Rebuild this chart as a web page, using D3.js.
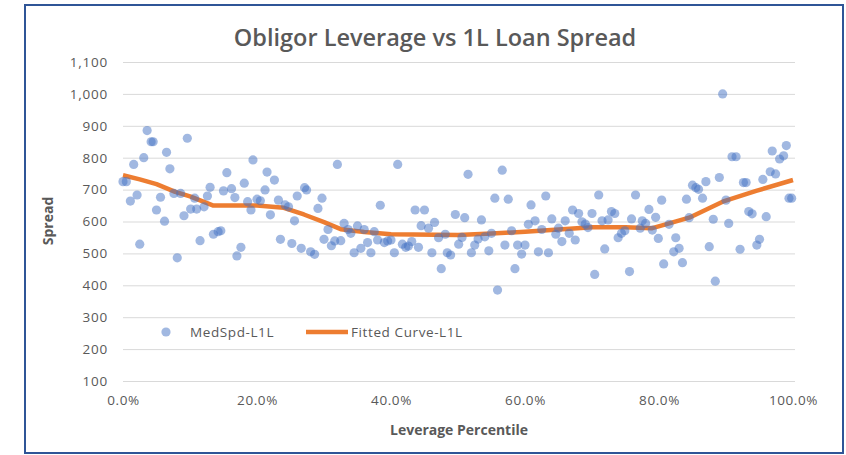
<!DOCTYPE html>
<html>
<head>
<meta charset="utf-8">
<script src="https://cdn.jsdelivr.net/npm/d3@7"></script>
<style>
  body { margin: 0; background: #fff; }
  svg text { font-family: "Open Sans", sans-serif; fill: #595959; }
</style>
</head>
<body>
<div id="chartContainer"></div>
<script>
// scatter points: leverage percentile (%) and median spread
const spreadX = [
  0.0, 0.5, 1.1, 1.6, 2.1, 2.5, 3.1, 3.6, 4.2, 4.5, 5.0, 5.6, 6.2, 6.5, 7.0, 7.6, 8.1, 8.6, 9.1, 9.6,
  10.1, 10.7, 11.0, 11.5, 12.1, 12.6, 13.0, 13.5, 14.2, 14.6, 15.0, 15.5, 16.2, 16.7, 17.0, 17.6, 18.1, 18.6, 19.1, 19.4,
  20.0, 20.5, 21.2, 21.5, 22.0, 22.6, 23.2, 23.5, 24.2, 24.7, 25.2, 25.6, 26.0, 26.6, 27.1, 27.4, 28.0, 28.6, 29.1, 29.7,
  30.0, 30.6, 31.1, 31.6, 32.0, 32.5, 33.0, 33.6, 34.0, 34.5, 35.0, 35.5, 36.0, 36.5, 37.0, 37.5, 38.0, 38.4, 39.0, 39.5,
  40.0, 40.5, 41.0, 41.7, 42.2, 42.6, 43.1, 43.6, 44.1, 44.5, 45.0, 45.6, 46.1, 46.5, 47.1, 47.5, 48.1, 48.4, 48.9, 49.6,
  50.1, 50.6, 51.0, 51.5, 52.0, 52.5, 53.0, 53.5, 54.0, 54.6, 55.0, 55.5, 55.9, 56.6, 57.0, 57.5, 58.0, 58.5, 58.9, 59.5,
  60.0, 60.5, 60.9, 61.5, 62.0, 62.5, 63.1, 63.5, 64.0, 64.6, 65.0, 65.5, 66.0, 66.6, 67.1, 67.5, 68.0, 68.5, 69.0, 69.4,
  70.0, 70.4, 71.0, 71.5, 71.9, 72.4, 72.9, 73.4, 73.9, 74.4, 74.9, 75.6, 75.9, 76.5, 77.2, 77.5, 78.0, 78.5, 79.0, 79.5,
  79.9, 80.4, 80.7, 81.5, 82.2, 82.5, 83.0, 83.5, 84.1, 84.5, 85.0, 85.5, 85.9, 86.5, 87.0, 87.5, 88.1, 88.4, 89.0, 89.5,
  90.0, 90.4, 90.9, 91.5, 92.1, 92.6, 93.0, 93.4, 93.9, 94.6, 95.0, 95.5, 96.0, 96.6, 96.9, 97.4, 98.0, 98.6, 99.0, 99.4, 99.8
];
const spreadY = [
  725, 725, 664, 779, 683, 529, 800, 885, 850, 850, 636, 676, 601, 817, 765, 688, 486, 688, 618, 861,
  639, 673, 639, 540, 646, 680, 707, 560, 568, 571, 696, 753, 703, 675, 492, 519, 720, 662, 636, 793,
  670, 665, 699, 755, 621, 730, 667, 544, 652, 646, 531, 602, 680, 516, 706, 699, 505, 497, 641, 673,
  544, 575, 524, 539, 779, 540, 594, 575, 563, 502, 586, 516, 575, 534, 502, 568, 542, 651, 534, 539,
  542, 502, 779, 529, 519, 523, 537, 636, 519, 587, 636, 579, 502, 597, 549, 452, 560, 502, 495, 622,
  529, 550, 612, 748, 502, 526, 545, 605, 552, 508, 563, 673, 385, 761, 526, 670, 571, 452, 526, 498,
  526, 591, 652, 602, 505, 575, 680, 502, 608, 560, 579, 537, 602, 563, 636, 542, 625, 599, 592, 581,
  625, 434, 683, 602, 514, 605, 631, 625, 549, 563, 571, 443, 608, 683, 579, 602, 594, 638, 573, 613,
  547, 667, 467, 591, 505, 549, 516, 471, 670, 612, 714, 706, 701, 673, 725, 521, 607, 413, 738, 1000,
  667, 594, 803, 803, 513, 722, 722, 631, 624, 526, 544, 732, 615, 756, 821, 749, 796, 806, 838, 673, 673
];

// fitted curve
const fitX = [0, 2.5, 5, 7.8, 10, 13.5, 20, 24, 27, 30, 32.5, 36, 40, 50, 55, 60, 65, 70, 75, 79, 81, 84.5, 89.5, 94.5, 100];
const fitY = [745, 732, 717, 693, 679, 650, 650, 643, 622, 598, 576, 567, 560, 558, 562, 568, 575, 582, 582, 579, 591, 612, 662, 696, 730];

const yTicks = [100, 200, 300, 400, 500, 600, 700, 800, 900, 1000, 1100];
const xTicks = [0, 20, 40, 60, 80, 100];

const W = 846, H = 455;
const margin = { left: 123, top: 62, right: 53, bottom: 74 };

const svg = d3.select("#chartContainer")
  .append("svg")
  .attr("width", W)
  .attr("height", H);

// frame
svg.append("rect")
  .attr("x", 25).attr("y", 5)
  .attr("width", 818).attr("height", 448)
  .attr("fill", "#fff")
  .attr("stroke", "#2f5597")
  .attr("stroke-width", 2);

const xScale = d3.scaleLinear().domain([0, 100]).range([margin.left, W - margin.right]);
const yScale = d3.scaleLinear().domain([100, 1100]).range([H - margin.bottom, margin.top]);

// gridlines + y labels
const gy = svg.append("g")
  .attr("transform", `translate(${margin.left},0)`)
  .call(d3.axisLeft(yScale)
    .tickValues(yTicks)
    .tickSize(-(W - margin.right - margin.left + 2))
    .tickPadding(15)
    .tickFormat(d3.format(",")));
gy.select(".domain").remove();
gy.selectAll(".tick line").attr("stroke", "#d9d9d9").attr("stroke-width", 1);
gy.selectAll(".tick text")
  .style("font-size", "13.5px")
  .style("letter-spacing", "0.8px")
  .attr("fill", "#595959");

// x labels
const gx = svg.append("g")
  .attr("transform", `translate(0,${H - margin.bottom})`)
  .call(d3.axisBottom(xScale)
    .tickValues(xTicks)
    .tickSize(0)
    .tickPadding(14)
    .tickFormat((d) => d.toFixed(1) + "%"));
gx.select(".domain").remove();
gx.selectAll(".tick text")
  .style("font-size", "13.5px")
  .style("letter-spacing", "0.6px")
  .attr("fill", "#595959");

// fitted curve
const fitLine = d3.line()
  .x((d, i) => xScale(fitX[i]))
  .y((d) => yScale(d));

svg.append("path")
  .datum(fitY)
  .attr("d", fitLine)
  .attr("fill", "none")
  .attr("stroke", "#ed7d31")
  .attr("stroke-width", 4.5)
  .attr("stroke-linejoin", "round");

// scatter dots
svg.append("g")
  .selectAll("circle")
  .data(spreadY)
  .enter().append("circle")
  .attr("cx", (d, i) => xScale(spreadX[i]))
  .attr("cy", (d) => yScale(d))
  .attr("r", 4.6)
  .attr("fill", "#4472c4")
  .attr("fill-opacity", 0.5);

// title
svg.append("text")
  .attr("x", 435).attr("y", 46)
  .attr("text-anchor", "middle")
  .style("font-size", "23.5px")
  .style("font-weight", 600)
  .text("Obligor Leverage vs 1L Loan Spread");

// axis titles
svg.append("text")
  .attr("x", 459).attr("y", 435)
  .attr("text-anchor", "middle")
  .style("font-size", "14px")
  .style("font-weight", 700)
  .text("Leverage Percentile");

svg.append("text")
  .attr("transform", "translate(53,221) rotate(-90)")
  .attr("text-anchor", "middle")
  .style("font-size", "14px")
  .style("font-weight", 700)
  .text("Spread");

// legend
const legend = svg.append("g").attr("transform", "translate(0,332)");
legend.append("circle")
  .attr("cx", 166).attr("cy", 0).attr("r", 4.6)
  .attr("fill", "#4472c4").attr("fill-opacity", 0.5);
legend.append("text")
  .attr("x", 190).attr("y", 5)
  .style("font-size", "13.5px")
  .style("letter-spacing", "0.6px")
  .text("MedSpd-L1L");
legend.append("line")
  .attr("x1", 306).attr("x2", 348)
  .attr("y1", 0).attr("y2", 0)
  .attr("stroke", "#ed7d31").attr("stroke-width", 4.5);
legend.append("text")
  .attr("x", 351).attr("y", 5)
  .style("font-size", "13.5px")
  .style("letter-spacing", "0.6px")
  .text("Fitted Curve-L1L");
</script>
</body>
</html>
